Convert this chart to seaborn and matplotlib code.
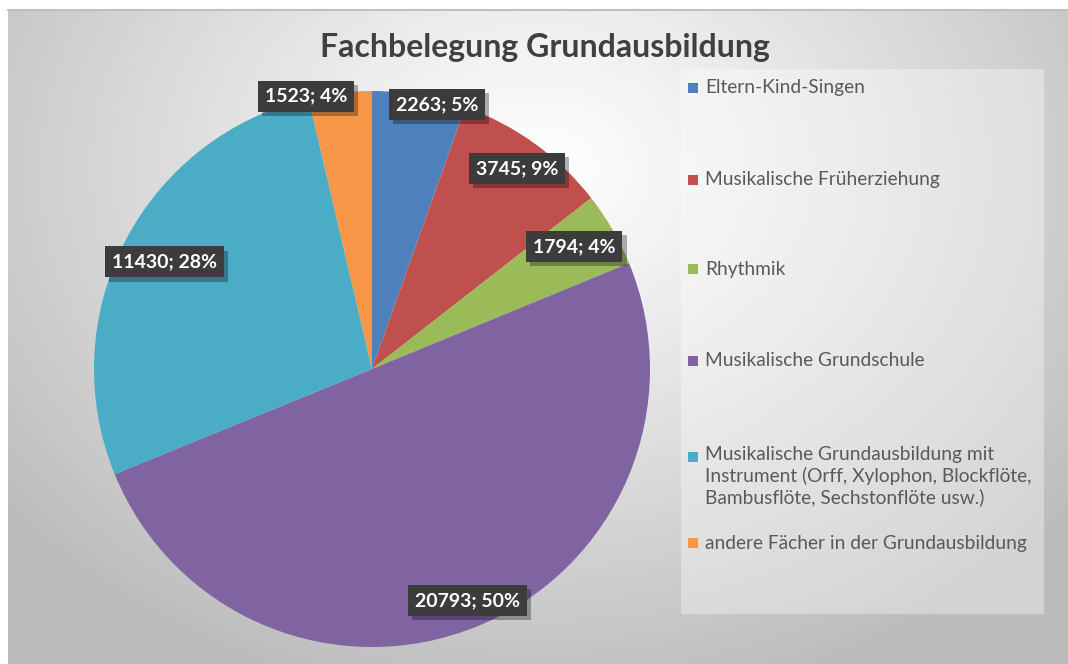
import matplotlib.pyplot as plt
import matplotlib.patheffects as pe
import numpy as np
import seaborn as sns
from matplotlib.patches import Rectangle

sns.set_theme(style="white")
plt.rcParams['font.family'] = ['Lato', 'DejaVu Sans']

# Data
categories = ['Eltern-Kind-Singen',
              'Musikalische Früherziehung',
              'Rhythmik',
              'Musikalische Grundschule',
              'Musikalische Grundausbildung mit\nInstrument (Orff, Xylophon, Blockflöte,\nBambusflöte, Sechstonflöte usw.)',
              'andere Fächer in der Grundausbildung']
values = [2263, 3745, 1794, 20793, 11430, 1523]
colors = ['#4F81BD', '#C0504D', '#9BBB59', '#8064A2', '#4BACC6', '#F79646']
title = 'Fachbelegung Grundausbildung'

# label placement (fraction of radius, angle shift in degrees)
label_r = [0.98, 0.89, 0.85, 0.90, 0.84, 1.01]
label_shift = [-4, 0, 1, 0, 0, 7]

W, H = 1068, 664
fig = plt.figure(figsize=(W / 100, H / 100), dpi=100)

# background gradient panel
bg = fig.add_axes([8 / W, 0, 1 - 8 / W, (H - 10) / H])
yy, xx = np.mgrid[10:H, 8:W]
d = np.sqrt(((xx - 540) / 680.0) ** 2 + ((yy - 170) / 540.0) ** 2)
g = 1.0 - 0.26 * np.clip(d, 0, 1) ** 1.1
bg.imshow(np.dstack([g, g, g]), aspect='auto', interpolation='bilinear')
bg.set_axis_off()
fig.add_artist(plt.Line2D([8 / W, 1], [(H - 10) / H] * 2, color='#c0c0c0', lw=1.5))

ax = fig.add_axes([0, 0, 1, 1])

cx, cy, R = 372, H - 369, 278
wedges, _ = ax.pie(values, colors=colors, startangle=90, counterclock=False,
                   center=(cx, cy), radius=R, frame=True,
                   wedgeprops=dict(linewidth=0))
ax.set_xlim(0, W)
ax.set_ylim(0, H)
ax.set_axis_off()

total = sum(values)
shadow = [pe.withSimplePatchShadow(offset=(3, -3), shadow_rgbFace='black', alpha=0.3)]
for i, w in enumerate(wedges):
    ang = np.deg2rad((w.theta1 + w.theta2) / 2 + label_shift[i])
    x = cx + label_r[i] * R * np.cos(ang)
    y = cy + label_r[i] * R * np.sin(ang)
    txt = f'{values[i]}; {values[i] / total * 100:.0f}%'
    t = ax.text(x, y, txt, ha='center', va='center', fontsize=14,
                fontweight='bold', color='white',
                bbox=dict(boxstyle='square,pad=0.36', fc='#3c3c3c', ec='none'))
    t.get_bbox_patch().set_path_effects(shadow)

ax.text(545, H - 48, title, ha='center', va='center', fontsize=23,
        fontweight='bold', color='#404040')

# legend panel
ax.add_patch(Rectangle((681, H - 614), 1044 - 681, 614 - 69,
                       fc='white', ec='none', alpha=0.35))
legend_y = [88, 180, 269, 361, 457, 543]
for i, lab in enumerate(categories):
    y = H - legend_y[i]
    ax.add_patch(Rectangle((688, y - 5), 10, 10, fc=colors[i], ec='none'))
    if '\n' in lab:
        ax.text(705, y + 11, lab, ha='left', va='top', fontsize=13.8,
                color='#595959', linespacing=1.25)
    else:
        ax.text(705, y, lab, ha='left', va='center', fontsize=13.8, color='#595959')

fig.savefig('out.png', dpi=100)
